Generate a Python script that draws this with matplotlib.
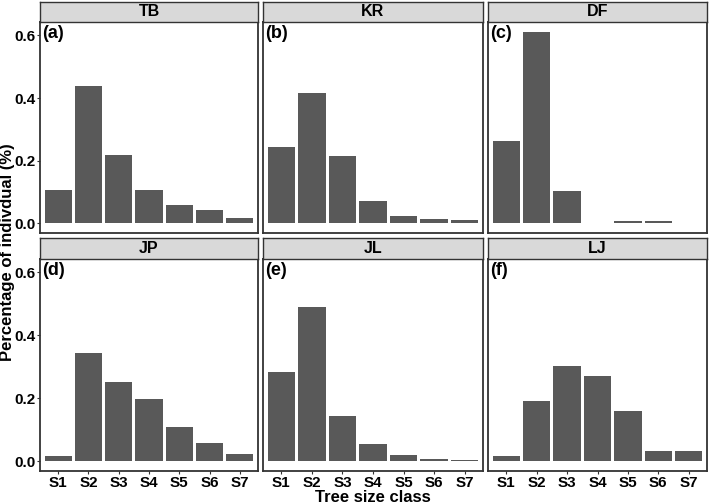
import matplotlib
matplotlib.use("Agg")
import matplotlib.pyplot as plt

plt.rcParams['font.family'] = ['Liberation Sans', 'DejaVu Sans']
plt.rcParams['font.weight'] = 'bold'

classes = ["S1", "S2", "S3", "S4", "S5", "S6", "S7"]
sites = ["TB", "KR", "DF", "JP", "JL", "LJ"]
panel_tags = ["(a)", "(b)", "(c)", "(d)", "(e)", "(f)"]
TB = [0.108, 0.438, 0.218, 0.108, 0.060, 0.044, 0.016]
KR = [0.243, 0.415, 0.216, 0.071, 0.024, 0.013, 0.010]
DF = [0.262, 0.612, 0.104, 0.0, 0.009, 0.009, 0.0]
JP = [0.016, 0.343, 0.253, 0.197, 0.109, 0.059, 0.022]
JL = [0.283, 0.490, 0.145, 0.054, 0.019, 0.006, 0.003]
LJ = [0.016, 0.191, 0.302, 0.270, 0.159, 0.032, 0.032]
values = [TB, KR, DF, JP, JL, LJ]
yticks = [0.0, 0.2, 0.4, 0.6]

W, H = 709, 504
fig = plt.figure(figsize=(W / 100, H / 100), dpi=100)

cols = [(40, 258), (263, 483), (488, 707)]
rows = [((2, 22), (22, 233)), ((238, 259), (259, 471))]

ymax = max(max(v) for v in values)
ylo, yhi = -0.05 * ymax, ymax * 1.05

border = "#333333"
for i, (site, tag, vals) in enumerate(zip(sites, panel_tags, values)):
    r, c = divmod(i, 3)
    (st0, st1), (p0, p1) = rows[r]
    x0, x1 = cols[c]
    ax = fig.add_axes([x0 / W, (H - p1) / H, (x1 - x0) / W, (p1 - p0) / H])
    xs = list(range(1, len(classes) + 1))
    ax.bar(xs, vals, width=0.9, color="#595959", edgecolor="none")
    ax.set_xlim(0.4, 7.6)
    ax.set_ylim(ylo, yhi)
    for s in ax.spines.values():
        s.set_color(border)
        s.set_linewidth(1.3)
    ax.set_yticks(yticks)
    ax.set_xticks(xs)
    ax.tick_params(length=2.5, width=0.8, color="#333333", labelsize=11,
                   labelcolor="black", pad=1.0)
    if c == 0:
        ax.set_yticklabels([f"{t:.1f}" for t in yticks], fontweight='bold')
    else:
        ax.set_yticklabels([])
        ax.tick_params(axis='y', length=0)
    if r == 1:
        ax.set_xticklabels(classes, fontweight='bold')
    else:
        ax.set_xticklabels([])
        ax.tick_params(axis='x', length=0)
    ax.text(0.01, 0.985, tag, transform=ax.transAxes, ha='left', va='top',
            fontsize=13, fontweight='bold')
    # strip
    sax = fig.add_axes([x0 / W, (H - st1) / H, (x1 - x0) / W, (st1 - st0) / H])
    sax.set_facecolor("#D9D9D9")
    sax.set_xticks([])
    sax.set_yticks([])
    for s in sax.spines.values():
        s.set_color(border)
        s.set_linewidth(1.0)
    sax.text(0.5, 0.5, site, transform=sax.transAxes, ha='center', va='center',
             fontsize=11.5, fontweight='bold')

fig.text(8 / W, (H - 252) / H, "Percentage of indivdual (%)", rotation=90,
         ha='center', va='center', fontsize=12, fontweight='bold')
fig.text(373 / W, (H - 497) / H, "Tree size class", ha='center', va='center',
         fontsize=12, fontweight='bold')

fig.savefig("out.png", dpi=100, facecolor="white")
